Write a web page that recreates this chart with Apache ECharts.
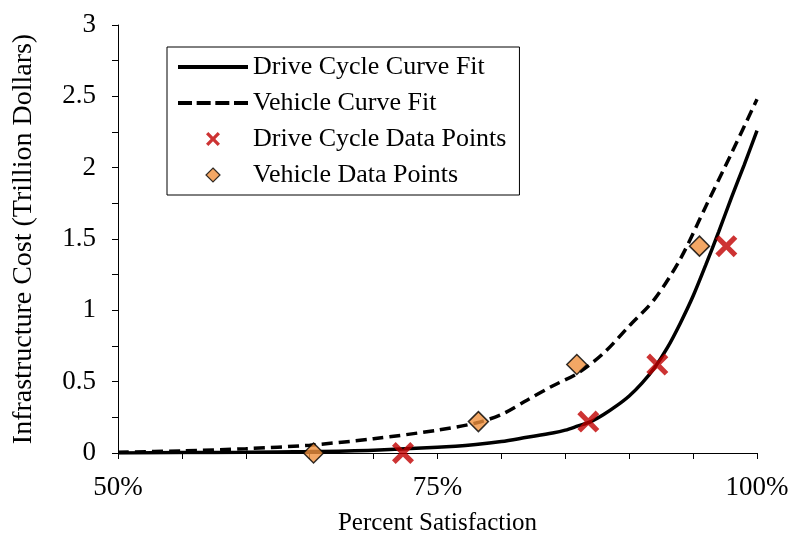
<!DOCTYPE html>
<html>
<head>
<meta charset="utf-8">
<script src="https://cdn.jsdelivr.net/npm/echarts@6/dist/echarts.min.js"></script>
<style>html,body{margin:0;padding:0;background:#fff;}#c{width:790px;height:535px;}</style>
</head>
<body>
<div id="c"></div>
<script>
// Percent satisfaction (x) and infrastructure cost in trillion dollars (y)
const driveFitX = [50, 55, 60, 65, 70, 75, 78, 80, 82, 84, 85, 86, 87, 88, 89, 90, 91, 92, 93, 94, 95, 96, 97, 98, 99, 100];
const driveFitY = [0, 0.003, 0.005, 0.01, 0.02, 0.04, 0.06, 0.08, 0.11, 0.14, 0.16, 0.19, 0.22, 0.27, 0.33, 0.4, 0.49, 0.6, 0.74, 0.91, 1.1, 1.32, 1.55, 1.79, 2.02, 2.26];
const vehFitX = [50, 55, 60, 65, 70, 75, 78, 80, 82, 84, 86, 88, 90, 92, 94, 96, 98, 100];
const vehFitY = [0.005, 0.015, 0.03, 0.055, 0.1, 0.16, 0.21, 0.27, 0.37, 0.47, 0.56, 0.7, 0.89, 1.08, 1.36, 1.73, 2.1, 2.48];
const drivePtsX = [72.3, 86.8, 92.2, 97.6];
const drivePtsY = [0, 0.22, 0.62, 1.45];
const vehPtsX = [65.3, 78.2, 85.9, 95.5];
const vehPtsY = [0, 0.22, 0.62, 1.45];
const xLabelTicks = [50, 75, 100];
const yLabelTicks = [0, 0.5, 1, 1.5, 2, 2.5, 3];
const seriesNames = ['Drive Cycle Curve Fit', 'Vehicle Curve Fit', 'Drive Cycle Data Points', 'Vehicle Data Points'];

const zip = (xs, ys) => xs.map((x, i) => [x, ys[i]]);
const FONT = '"Liberation Serif", "Times New Roman", serif';
const xPath = 'path://M2,0 L6,4 L10,0 L12,2 L8,6 L12,10 L10,12 L6,8 L2,12 L0,10 L4,6 L0,2 Z';
const diamondPath = 'path://M6,0 L12,6 L6,12 L0,6 Z';
const solidIcon = 'path://M0,0 L70,0 L70,4 L0,4 Z';
const dashIcon = 'path://M0,0 h14 v4 h-14 Z M18.67,0 h14 v4 h-14 Z M37.33,0 h14 v4 h-14 Z M56,0 h14 v4 h-14 Z';

const chart = echarts.init(document.getElementById('c'), null, {renderer: 'canvas'});
chart.setOption({
  animation: false,
  backgroundColor: '#fff',
  textStyle: {fontFamily: FONT, color: '#000'},
  grid: {left: 118, right: 33, top: 25, bottom: 82, containLabel: false, outerBoundsMode: 'none'},
  legend: {
    orient: 'vertical',
    left: 167, top: 47,
    padding: [7, 13, 7, 11],
    borderColor: '#000', borderWidth: 1,
    backgroundColor: '#fff',
    itemWidth: 70, itemHeight: 14, itemGap: 10,
    symbolKeepAspect: true,
    textStyle: {fontFamily: FONT, fontSize: 26, color: '#000', lineHeight: 26},
    data: [
      {name: seriesNames[0], icon: solidIcon, itemStyle: {color: '#000', borderWidth: 0}},
      {name: seriesNames[1], icon: dashIcon, itemStyle: {color: '#000', borderWidth: 0}},
      {name: seriesNames[2], icon: xPath, itemStyle: {color: '#C00000', borderWidth: 0}},
      {name: seriesNames[3], icon: diamondPath, itemStyle: {color: '#F0913E', borderColor: '#000', borderWidth: 1.2}}
    ]
  },
  xAxis: {
    type: 'value', min: 50, max: 100, interval: 5,
    name: 'Percent Satisfaction', nameLocation: 'middle', nameGap: 58,
    nameTextStyle: {fontFamily: FONT, fontSize: 25, color: '#000'},
    axisLine: {lineStyle: {color: '#000', width: 1}},
    axisTick: {show: true, inside: false, length: 6, lineStyle: {color: '#000'}},
    axisLabel: {fontFamily: FONT, fontSize: 27, color: '#000', margin: 21,
      formatter: v => xLabelTicks.includes(v) ? v + '%' : ''},
    splitLine: {show: false}
  },
  yAxis: {
    type: 'value', min: 0, max: 3, interval: 0.25,
    name: 'Infrastructure Cost (Trillion Dollars)', nameLocation: 'middle', nameGap: 80,
    nameTextStyle: {fontFamily: FONT, fontSize: 28, color: '#000'},
    axisLine: {show: true, lineStyle: {color: '#000', width: 1}},
    axisTick: {show: true, inside: false, length: 6, lineStyle: {color: '#000'}},
    axisLabel: {fontFamily: FONT, fontSize: 27, color: '#000', margin: 22,
      formatter: v => yLabelTicks.some(t => Math.abs(t - v) < 1e-9) ? String(v) : ''},
    splitLine: {show: false}
  },
  series: [
    {name: seriesNames[0], type: 'line', data: zip(driveFitX, driveFitY), smooth: 0.3,
     symbol: 'none', lineStyle: {color: '#000', width: 3.5, type: 'solid'}, itemStyle: {color: '#000'}, z: 2},
    {name: seriesNames[1], type: 'line', data: zip(vehFitX, vehFitY), smooth: 0.3,
     symbol: 'none', lineStyle: {color: '#000', width: 3.5, type: [11, 6]}, itemStyle: {color: '#000'}, z: 2},
    {name: seriesNames[2], type: 'scatter', data: zip(drivePtsX, drivePtsY), symbol: xPath, symbolSize: 22,
     itemStyle: {color: '#C00000'}, z: 3},
    {name: seriesNames[3], type: 'scatter', data: zip(vehPtsX, vehPtsY), symbol: 'diamond', symbolSize: 20,
     itemStyle: {color: '#F0913E', borderColor: '#000', borderWidth: 1.5}, z: 3}
  ]
});
</script>
</body>
</html>
